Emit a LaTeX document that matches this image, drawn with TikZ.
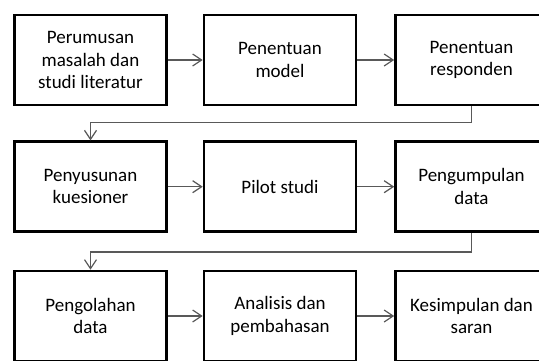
\documentclass[tikz,border=0pt]{standalone}
\usepackage{fontspec}
\setmainfont{Carlito}
\usetikzlibrary{arrows.meta, positioning}

\begin{document}
\begin{tikzpicture}[x=1pt, y=-1pt,
    box/.style={rectangle, draw, line width=2.6pt, minimum width=152pt, minimum height=90pt,
      align=center, font=\fontsize{19}{22.5}\selectfont},
    flow/.style={draw=black!65, line width=1.2pt, -{Straight Barb[length=9pt, width=12pt]}}]
  \useasboundingbox (0,0) rectangle (539,360);
  \clip (0,0) rectangle (539,360);

  \node[box] (rumus) at (90.5,60) {Perumusan\\masalah dan\\studi literatur};
  \node[box] (model) at (280,60) {Penentuan\\model};
  \node[box] (respon) at (471.5,60) {Penentuan\\responden};

  \node[box] (kues) at (90.5,186.7) {Penyusunan\\kuesioner};
  \node[box] (pilot) at (280,186.7) {Pilot studi};
  \node[box] (kumpul) at (471.5,186.7) {Pengumpulan\\data};

  \node[box] (olah) at (90.5,316) {Pengolahan\\data};
  \node[box] (bahas) at (280,316) {Analisis dan\\pembahasan};
  \node[box] (simpul) at (471.5,316) {Kesimpulan dan\\saran};

  \draw[flow] (rumus) -- (model);
  \draw[flow] (model) -- (respon);
  \draw[flow] (respon.south) -- ++(0,16) -| (kues.north);
  \draw[flow] (kues) -- (pilot);
  \draw[flow] (pilot) -- (kumpul);
  \draw[flow] (kumpul.south) -- ++(0,19) -| (olah.north);
  \draw[flow] (olah) -- (bahas);
  \draw[flow] (bahas) -- (simpul);
\end{tikzpicture}
\end{document}
